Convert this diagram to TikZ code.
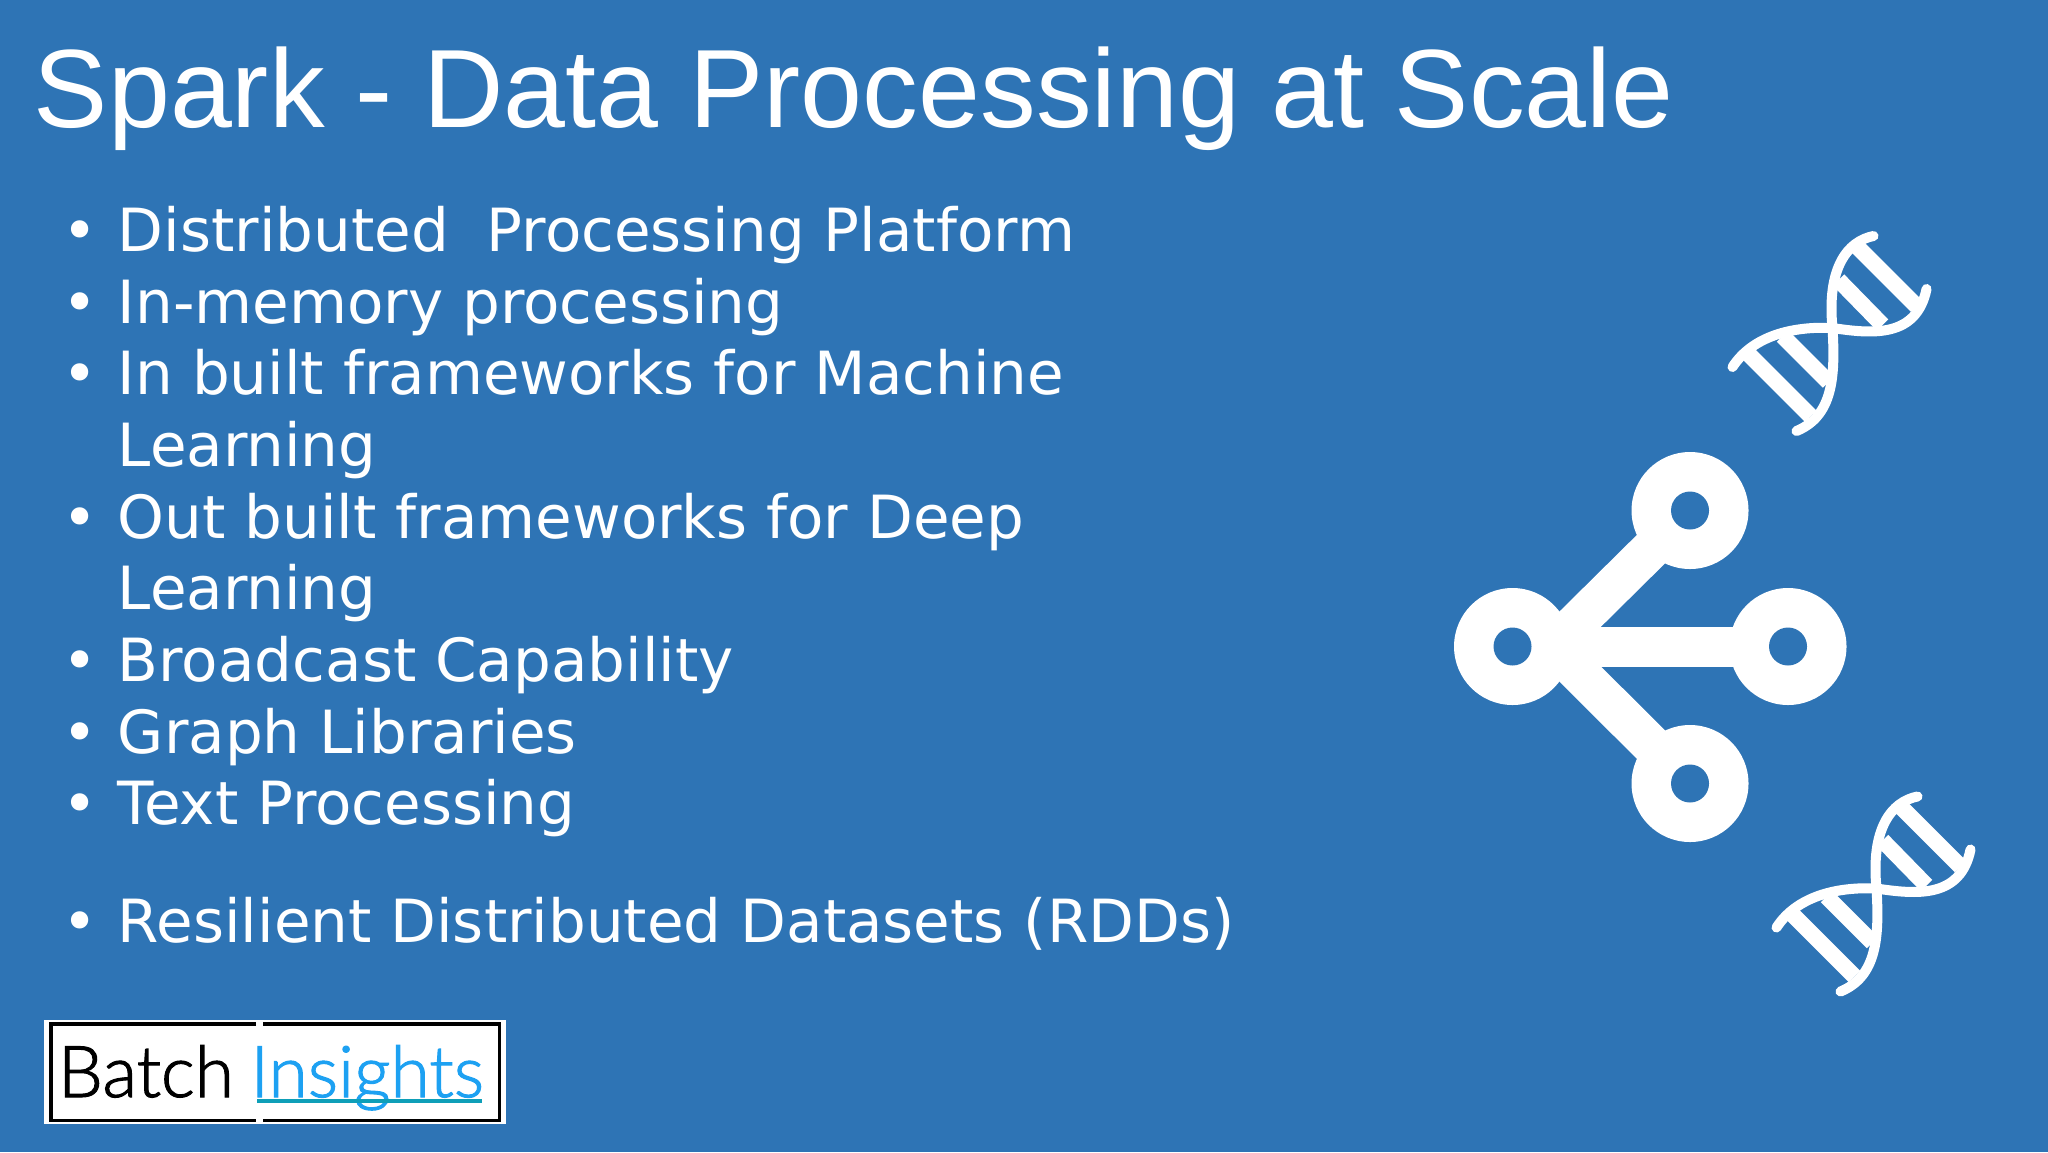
\documentclass[tikz,border=0pt]{standalone}
\usepackage{fontspec}
\setmainfont{DejaVu Sans}
\newfontfamily\titlefont{Liberation Sans}
\newfontfamily\logofont{Lato Light}[FakeBold=1.5]
\definecolor{slideblue}{HTML}{2E74B5}
\definecolor{logoblue}{HTML}{1DA1F2}
\definecolor{logoteal}{HTML}{0E9FB8}
\tikzset{
  itemtext/.style={anchor=base west,text=white,inner sep=0pt,font=\fontsize{29.78}{36}\selectfont},
  itembullet/.style={anchor=base,text=white,inner sep=0pt,font=\fontsize{29.78}{36}\selectfont},
  hubouter/.style={circle,fill=white,inner sep=0pt,minimum size=58.5pt},
  hubinner/.style={circle,fill=slideblue,inner sep=0pt,minimum size=19pt},
  hubline/.style={white,line width=20pt},
  strand/.style={white,line width=5pt,line cap=round},
  rung/.style={white,line width=8pt}
}
\def\dnashape{
\draw[strand] (41,-92) .. controls (15,-87) and (-6,-60) .. (0,0) .. controls (3,50) and (0,88) .. (-36,103);
\draw[strand] (-100,39) .. controls (-80,8) and (-40,-2) .. (0,0) .. controls (40,6) and (84,10) .. (94,-39);
\draw[rung] (24,-82) -- (84,-22);
\draw[rung] (6,-48) -- (50,-3);
\draw[rung] (-50,8) -- (-4,54);
\draw[rung] (-86,24) -- (-22,88);
}
\begin{document}
\begin{tikzpicture}[x=0.5pt,y=-0.5pt]
\useasboundingbox (0,0) rectangle (2048,1152);
\fill[slideblue] (0,0) rectangle (2048,1152);

\node (title) [anchor=base west,text=white,inner sep=0pt,font=\titlefont\fontsize{55.66}{64}\selectfont] at (33.5,127) {Spark - Data Processing at Scale};

\foreach \name/\ypos/\words in {
  distributed/251/{Distributed\ \ Processing Platform},
  memory/323/{In-memory processing},
  machine/394.5/{In built frameworks for Machine},
  deep/538/{Out built frameworks for Deep},
  broadcast/681/{Broadcast Capability},
  graph/753/{Graph Libraries},
  textproc/824.3/{Text Processing},
  rdds/942.3/{Resilient Distributed Datasets (RDDs)}}
{
  \node (bullet-\name) [itembullet] at (80.5,\ypos) {•};
  \node (\name) [itemtext] at (117.5,\ypos) {\words};
}
\node (machine2) [itemtext] at (117.5,466) {Learning};
\node (deep2) [itemtext] at (117.5,609.3) {Learning};

% network icon
\foreach \name/\pos in {hubtop/{1690,510.5},hubleft/{1512.5,646.5},hubright/{1788,646.5},hubbottom/{1690,783.5}}
  \node (\name) [hubouter] at (\pos) {};
\coordinate (fork) at (1552.5,646.5);
\draw[hubline] (fork) -- (hubtop.center);
\draw[hubline] (fork) -- (hubbottom.center);
\draw[hubline] (hubleft.center) -- (hubright.center);
\foreach \name in {hubtop,hubleft,hubright,hubbottom}
  \node (\name-hole) [hubinner] at (\name.center) {};

% dna
\begin{scope}[shift={(1832.5,328)}]
\dnashape
\end{scope}
\begin{scope}[shift={(1876.5,888.5)}]
\dnashape
\end{scope}

% logo
\fill[white] (44,1020) rectangle (506,1124);
\draw[black,line width=1.8pt] (256,1023.7) -- (51,1023.7) -- (51,1120.3) -- (256,1120.3);
\draw[black,line width=1.8pt] (263,1023.7) -- (499.3,1023.7) -- (499.3,1120.3) -- (263,1120.3);
\node (batch) [anchor=base west,inner sep=0pt,font=\logofont\fontsize{35.7}{40}\selectfont] at (57.5,1097) {Batch};
\node (insights) [anchor=base west,inner sep=0pt,text=logoblue,font=\logofont\fontsize{35.7}{40}\selectfont] at (250,1097) {Insights};
\fill[logoteal] (256.7,1099.3) rectangle (481.7,1103.3);
\end{tikzpicture}
\end{document}
